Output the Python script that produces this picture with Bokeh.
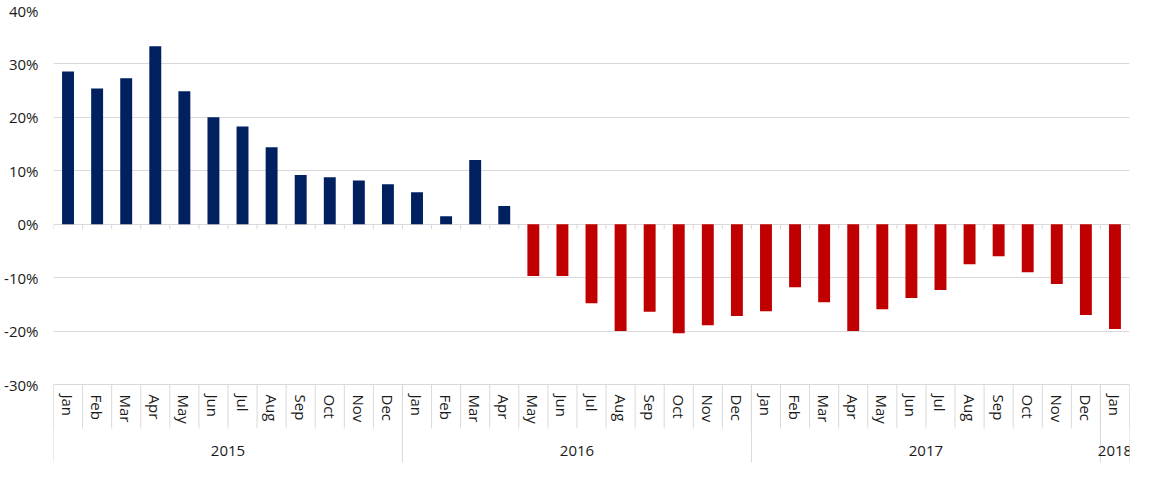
import math
from bokeh.plotting import figure
from bokeh.models import ColumnDataSource, FixedTicker, NumeralTickFormatter, Range1d
from bokeh.core.properties import value
from bokeh.embed import file_html
from bokeh.resources import INLINE

# ---- data ----
months = ["Jan", "Feb", "Mar", "Apr", "May", "Jun", "Jul", "Aug", "Sep", "Oct", "Nov", "Dec",
          "Jan", "Feb", "Mar", "Apr", "May", "Jun", "Jul", "Aug", "Sep", "Oct", "Nov", "Dec",
          "Jan", "Feb", "Mar", "Apr", "May", "Jun", "Jul", "Aug", "Sep", "Oct", "Nov", "Dec",
          "Jan"]
years = ["2015", "2016", "2017", "2018"]
months_per_year = [12, 12, 12, 1]
growth = [0.286, 0.254, 0.273, 0.333, 0.249, 0.200, 0.183, 0.144, 0.092, 0.088, 0.082, 0.075,
          0.060, 0.015, 0.120, 0.034, -0.097, -0.097, -0.148, -0.200, -0.164, -0.204, -0.189, -0.172,
          -0.163, -0.118, -0.146, -0.200, -0.159, -0.138, -0.123, -0.075, -0.060, -0.090, -0.112, -0.170,
          -0.196]
y_ticks = [-0.3, -0.2, -0.1, 0.0, 0.1, 0.2, 0.3, 0.4]

# ---- layout ----
W, H = 1153, 478
B_LEFT, B_RIGHT, B_TOP, B_BOTTOM = 53, 24, 10, 13
frame_h = H - B_TOP - B_BOTTOM
Y_TOP = 0.40
unit_per_px = 0.70 / 374.0
Y_BOTTOM = Y_TOP - frame_h * unit_per_px
N = len(months)

BLUE = "#002060"
RED = "#C00000"
GRID = "#D9D9D9"
TEXT = "#1A1A1A"
FONT = "Open Sans"

p = figure(width=W, height=H, output_backend="svg", toolbar_location=None,
           x_axis_location=None, title=None,
           x_range=Range1d(0, N), y_range=Range1d(Y_BOTTOM, Y_TOP),
           min_border_left=B_LEFT, min_border_right=B_RIGHT,
           min_border_top=B_TOP, min_border_bottom=B_BOTTOM)
p.outline_line_color = None
p.background_fill_color = "white"
p.border_fill_color = "white"
p.xgrid.visible = False

p.ygrid.ticker = FixedTicker(ticks=y_ticks)
p.ygrid.grid_line_color = GRID
p.ygrid.grid_line_width = 1

ax = p.yaxis[0]
ax.ticker = FixedTicker(ticks=y_ticks)
ax.formatter = NumeralTickFormatter(format="0%")
ax.axis_line_color = None
ax.major_tick_line_color = None
ax.minor_tick_line_color = None
ax.major_tick_out = 0
ax.major_tick_in = 0
ax.minor_tick_out = 0
ax.major_label_standoff = 15
ax.major_label_text_font = FONT
ax.major_label_text_font_size = "15px"
ax.major_label_text_color = TEXT

xc = [i + 0.5 for i in range(N)]
colors = [BLUE if v >= 0 else RED for v in growth]
src = ColumnDataSource(dict(x=xc, top=growth, color=colors))
p.vbar(x="x", top="top", bottom=0, width=0.41, fill_color="color", line_color=None, source=src)

# tick marks on the zero axis
bounds = list(range(N + 1))
p.segment(x0=bounds, y0=[0] * len(bounds), x1=bounds, y1=[-5 * unit_per_px] * len(bounds),
          line_color=GRID, line_width=1)

# month separators
y_axis_low = -0.30
p.segment(x0=bounds, y0=[y_axis_low] * len(bounds), x1=bounds,
          y1=[y_axis_low - 44 * unit_per_px] * len(bounds), line_color=GRID, line_width=1)

# year group separators
gb = [0]
for n in months_per_year:
    gb.append(gb[-1] + n)
p.segment(x0=gb, y0=[y_axis_low] * len(gb), x1=gb,
          y1=[y_axis_low - 78 * unit_per_px] * len(gb), line_color=GRID, line_width=1)

# month labels
p.text(x=xc, y=[y_axis_low] * N, text=months, angle=-math.pi / 2, y_offset=10,
       text_align="left", text_baseline="middle", text_font=value(FONT),
       text_font_size="15px", text_color=TEXT)

# year labels
yc = [(gb[i] + gb[i + 1]) / 2 for i in range(len(years))]
p.text(x=yc, y=[y_axis_low] * len(years), text=years, y_offset=66,
       text_align="center", text_baseline="middle", text_font=value(FONT),
       text_font_size="15px", text_color=TEXT)

open("out.html", "w").write(file_html(p, INLINE))
